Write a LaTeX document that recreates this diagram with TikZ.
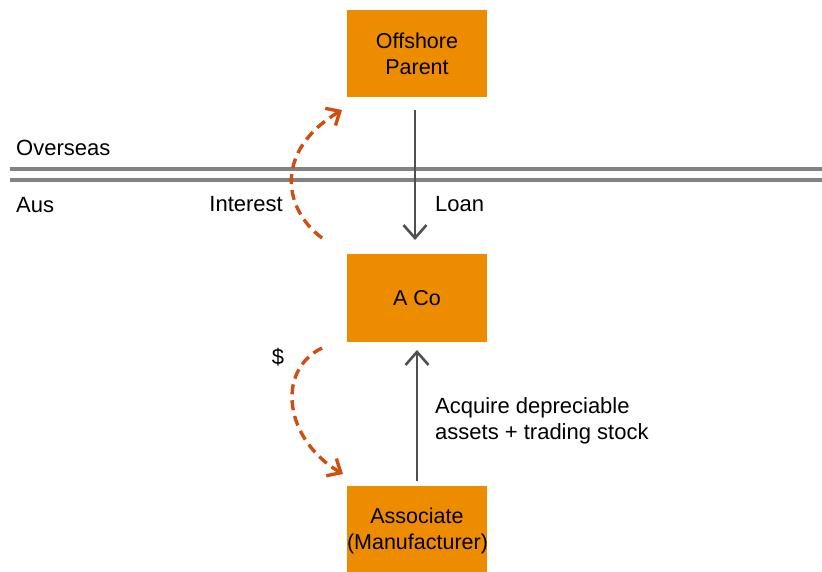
\documentclass[tikz,border=0pt]{standalone}
\usepackage{fontspec}
\setmainfont{Liberation Sans}
\usetikzlibrary{arrows.meta}
\definecolor{boxorange}{RGB}{238,140,0}
\definecolor{flowred}{RGB}{208,78,16}
\definecolor{arrowgray}{RGB}{80,80,80}
\definecolor{bordergray}{RGB}{130,130,130}
\begin{document}
\begin{tikzpicture}[x=1pt,y=-1pt,
  entity/.style={fill=boxorange,draw=none,minimum width=140pt,minimum height=87pt,
    align=center,font=\fontsize{21.5}{26}\selectfont,inner sep=0pt},
  lbl/.style={font=\fontsize{22}{26}\selectfont,inner sep=0pt},
  flow/.style={draw=arrowgray,line width=2.6pt,-{Straight Barb[length=13pt,width=23pt,line width=2.6pt]}},
  payment/.style={draw=flowred,line width=3.4pt,dash pattern=on 10pt off 6pt,
    -{Straight Barb[length=11pt,width=20pt,line width=3.4pt]}},
  border/.style={draw=bordergray,line width=4pt}]
\useasboundingbox (0,0) rectangle (822,572);

% entities
\node[entity] (parent) at (417,53.5) {Offshore\\Parent};
\node[entity] (aco) at (417,298) {A Co};
\node[entity,text width=140pt,minimum height=90pt] (assoc) at (417,531) {Associate\\(Manufacturer)};

% border between jurisdictions
\coordinate (bl1) at (10,169.5);
\coordinate (br1) at (822,169.5);
\coordinate (bl2) at (10,180.5);
\coordinate (br2) at (822,180.5);
\draw[border] (bl1) -- (br1);
\draw[border] (bl2) -- (br2);

\node[lbl,anchor=base west] (overseas) at (16,156) {Overseas};
\node[lbl,anchor=base west] (aus) at (16,213) {Aus};

% loan and asset flows
\coordinate (loanstart) at (415,110);
\coordinate (loanend) at (415,240);
\draw[flow] (loanstart) -- (loanend);
\coordinate (acqstart) at (417,481);
\coordinate (acqend) at (417,350);
\draw[flow] (acqstart) -- (acqend);

\node[lbl,anchor=base west] (loan) at (435,212) {Loan};
\node[lbl,anchor=west,align=left] (acquire) at (435,421) {Acquire depreciable\\assets + trading stock};

% payment flows
\coordinate (intstart) at (322,238);
\coordinate (intend) at (342,110);
\draw[payment] (intstart) .. controls (282,208) and (275,150) .. (intend);
\node[lbl,anchor=base east] (interest) at (283,212) {Interest};

\coordinate (paystart) at (322,348);
\coordinate (payend) at (343,474);
\draw[payment] (paystart) .. controls (275,371) and (285,440) .. (payend);
\node[lbl] (dollar) at (278,357) {\$};
\end{tikzpicture}
\end{document}
